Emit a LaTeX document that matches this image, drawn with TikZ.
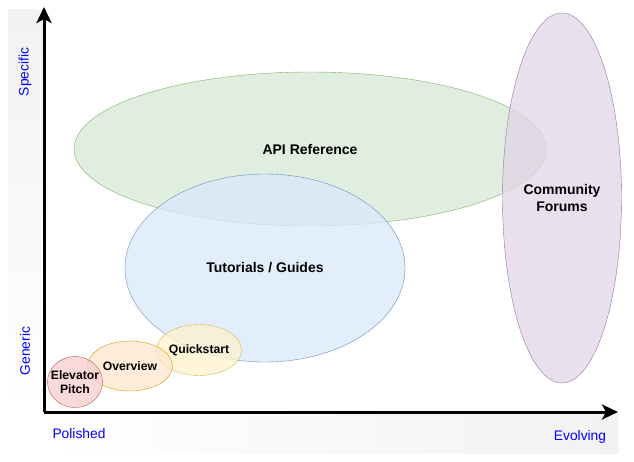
\documentclass[tikz,border=0pt]{standalone}
\usepackage{fontspec}
\setmainfont{Liberation Sans}
\usepackage{tikz}
\usetikzlibrary{arrows.meta,shapes.geometric,positioning}

\definecolor{apifill}{HTML}{D5E8D4}
\definecolor{apiline}{HTML}{82B366}
\definecolor{tutfill}{HTML}{DAE8FC}
\definecolor{tutline}{HTML}{6C8EBF}
\definecolor{comfill}{HTML}{E1D5E7}
\definecolor{comline}{HTML}{9673A6}
\definecolor{qsfill}{HTML}{FFF2CC}
\definecolor{qsline}{HTML}{D6B656}
\definecolor{ovfill}{HTML}{FFE6CC}
\definecolor{ovline}{HTML}{D79B00}
\definecolor{epfill}{HTML}{F8CECC}
\definecolor{epline}{HTML}{B85450}
\definecolor{axislabel}{HTML}{0000FF}
\definecolor{stripgrey}{HTML}{F2F2F2}

\tikzset{
	blob/.style={ellipse,draw,fill opacity=0.75,text opacity=1,inner sep=-6pt,
		align=center,font=\fontsize{14}{16.5}\selectfont\bfseries},
	smallblob/.style={blob,font=\fontsize{12.2}{14}\selectfont\bfseries},
	axistext/.style={text=axislabel,font=\fontsize{13.8}{16}\selectfont},
	axisline/.style={line width=3pt,-{Stealth[length=16pt,width=15pt,inset=4pt]}}
}

\begin{document}
\begin{tikzpicture}[x=1pt,y=-1pt]
		\useasboundingbox (0,0) rectangle (634,461);
		% grey strips behind the axes
		\shade[top color=stripgrey,bottom color=white] (8,9) rectangle (44,412);
		\shade[left color=white,right color=stripgrey] (44,412) rectangle (618,453);
		% regions
		\node[blob,fill=apifill,draw=apiline,minimum width=472pt,minimum height=154pt] (api) at (310,149) {API Reference};
		\node[blob,fill=tutfill,draw=tutline,minimum width=280pt,minimum height=188pt] (tut) at (265,268) {Tutorials / Guides};
		\node[blob,fill=comfill,draw=comline,minimum width=119pt,minimum height=370pt] (forum) at (562,198) {Community\\Forums};
		\node[smallblob,fill=qsfill,draw=qsline,minimum width=85pt,minimum height=51pt] (quick) at (199,350) {Quickstart};
		\node[smallblob,fill=ovfill,draw=ovline,minimum width=85pt,minimum height=50pt] (over) at (130,366) {Overview};
		\node[smallblob,fill=epfill,draw=epline,minimum width=55pt,minimum height=51pt] (pitch) at (75,382) {Elevator\\Pitch};
		% axes
		\coordinate (origin) at (44,412);
		\coordinate (ytip) at (44,7);
		\coordinate (xtip) at (618,412);
		\draw[axisline] (origin) -- (ytip);
		\draw[axisline] (origin) -- (xtip);
		\node[axistext,rotate=90] (specific) at (25,72) {Specific};
		\node[axistext,rotate=90] (generic) at (25,351) {Generic};
		\node[axistext] (polished) at (79,434) {Polished};
		\node[axistext] (evolving) at (580,437) {Evolving};
\end{tikzpicture}
\end{document}
